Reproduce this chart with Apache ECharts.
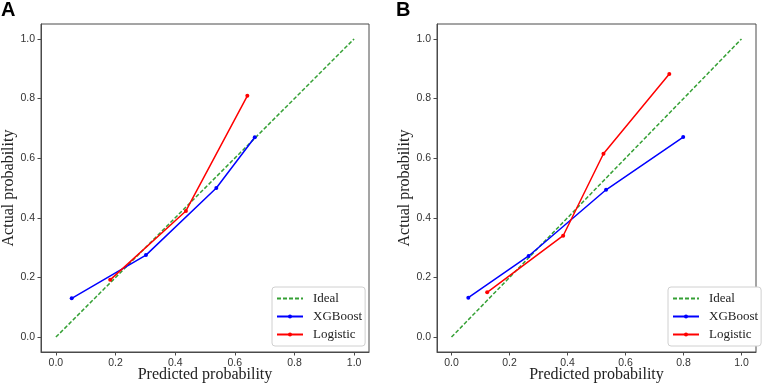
<!DOCTYPE html>
<html>
<head>
<meta charset="utf-8">
<script src="https://cdn.jsdelivr.net/npm/echarts@6/dist/echarts.min.js"></script>
<style>
  html, body { margin: 0; padding: 0; background: #fff; }
  #chart { width: 768px; height: 386px; }
</style>
</head>
<body>
<div id="chart"></div>
<script>
// calibration curves, [predicted, actual]
const idealLine = [[0, 0], [1, 1]];
const xgbA = [[0.053, 0.130], [0.302, 0.275], [0.538, 0.500], [0.667, 0.670]];
const logA = [[0.182, 0.192], [0.436, 0.423], [0.642, 0.809]];
const xgbB = [[0.058, 0.132], [0.266, 0.272], [0.533, 0.494], [0.799, 0.671]];
const logB = [[0.123, 0.150], [0.385, 0.340], [0.524, 0.615], [0.751, 0.882]];
const tickValues = [0, 0.2, 0.4, 0.6, 0.8, 1.0];
const panelNames = ['A', 'B'];
const legendNames = ['Ideal', 'XGBoost', 'Logistic'];

const serif = '"Liberation Serif", "Times New Roman", serif';
const sans = '"Liberation Sans", Arial, sans-serif';
const frame = '#4a4a4a';

const grids = [
  {left: 41, top: 24, width: 328, height: 328},
  {left: 437, top: 24, width: 319, height: 328}
];

function axisCommon(name, nameGap) {
  return {
    type: 'value',
    min: -0.05,
    max: 1.05,
    name: name,
    nameLocation: 'middle',
    nameGap: nameGap,
    nameTextStyle: {fontFamily: serif, fontSize: 16, color: '#222'},
    axisLine: {show: true, onZero: false, lineStyle: {color: frame, width: 1}},
    axisTick: {show: true, length: 3.5, customValues: tickValues, lineStyle: {color: frame}},
    axisLabel: {
      customValues: tickValues,
      margin: 6,
      fontFamily: sans,
      fontSize: 10.5,
      color: '#333',
      formatter: v => v.toFixed(1)
    },
    splitLine: {show: false}
  };
}

const xAxes = [], yAxes = [], series = [], legends = [], titles = [];
grids.forEach((g, i) => {
  xAxes.push(Object.assign(axisCommon('Predicted probability', 15), {gridIndex: i, nameMoveOverlap: false}));
  yAxes.push(Object.assign(axisCommon('Actual probability', 24), {gridIndex: i}));
});

const panels = [[xgbA, logA], [xgbB, logB]];
panels.forEach((p, i) => {
  series.push({
    name: 'Ideal', type: 'line', xAxisIndex: i, yAxisIndex: i,
    data: idealLine, symbol: 'none', z: 2,
    lineStyle: {color: '#35a035', width: 1.5, type: [4, 2]},
    itemStyle: {color: '#35a035'}
  });
  series.push({
    name: 'XGBoost', type: 'line', xAxisIndex: i, yAxisIndex: i,
    data: p[0], symbol: 'circle', symbolSize: 4, z: 3,
    lineStyle: {color: '#0000ff', width: 1.5},
    itemStyle: {color: '#0000ff'}
  });
  series.push({
    name: 'Logistic', type: 'line', xAxisIndex: i, yAxisIndex: i,
    data: p[1], symbol: 'circle', symbolSize: 4, z: 4,
    lineStyle: {color: '#ff0000', width: 1.5},
    itemStyle: {color: '#ff0000'}
  });
});

legends.push({left: 272, top: 287});
legends.push({left: 668, top: 287});
legends.forEach(l => Object.assign(l, {
  data: [
    {name: legendNames[0], itemStyle: {opacity: 0}},
    {name: legendNames[1]},
    {name: legendNames[2]}
  ],
  orient: 'vertical',
  itemWidth: 26,
  itemHeight: 5,
  itemGap: 5,
  padding: [5, 3, 5, 4],
  backgroundColor: '#fff',
  borderColor: '#d0d0d0',
  borderWidth: 1,
  borderRadius: 3,
  selectedMode: false,
  textStyle: {fontFamily: serif, fontSize: 13, color: '#222', padding: [0, 0, 0, 5]}
}));

titles.push({text: panelNames[0], left: 1, top: 0});
titles.push({text: panelNames[1], left: 396, top: 0});
titles.forEach(t => Object.assign(t, {
  padding: 0,
  textStyle: {fontFamily: sans, fontSize: 20, fontWeight: 'bold', color: '#000'}
}));

const chart = echarts.init(document.getElementById('chart'));
chart.setOption({
  animation: false,
  backgroundColor: '#fff',
  title: titles,
  legend: legends,
  grid: grids.map(g => Object.assign({
    show: true, borderColor: frame, borderWidth: 1, backgroundColor: 'transparent',
    containLabel: false, outerBoundsMode: 'none'
  }, g)),
  xAxis: xAxes,
  yAxis: yAxes,
  series: series
});
</script>
</body>
</html>
